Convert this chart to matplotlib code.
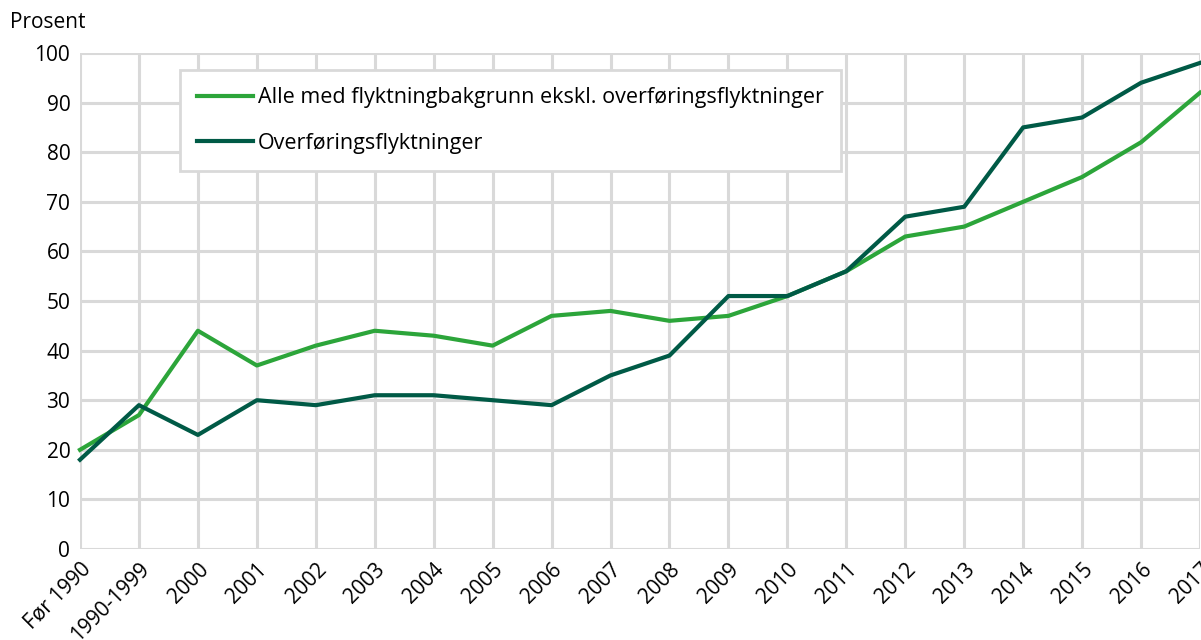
import matplotlib.pyplot as plt

plt.rcParams['font.family'] = ['Open Sans', 'DejaVu Sans']

categories = ['Før 1990', '1990-1999', '2000', '2001', '2002', '2003', '2004',
              '2005', '2006', '2007', '2008', '2009', '2010', '2011', '2012',
              '2013', '2014', '2015', '2016', '2017']
alle = [20, 27, 44, 37, 41, 44, 43, 41, 47, 48, 46, 47, 51, 56, 63, 65, 70, 75, 82, 92]
overforing = [18, 29, 23, 30, 29, 31, 31, 30, 29, 35, 39, 51, 51, 56, 67, 69, 85, 87, 94, 98]

label_alle = 'Alle med flyktningbakgrunn ekskl. overføringsflyktninger'
label_over = 'Overføringsflyktninger'

fig = plt.figure(figsize=(12.01, 6.4), dpi=100)
ax = fig.add_axes([80 / 1201, 1 - 549 / 640, 1120 / 1201, 496 / 640])

x = range(len(categories))
ax.plot(x, alle, color='#2ca53a', lw=3, label=label_alle, clip_on=False, zorder=3)
ax.plot(x, overforing, color='#005a46', lw=3, label=label_over, clip_on=False, zorder=4)

ax.set_xlim(0, len(categories) - 1)
ax.set_ylim(0, 100)
ax.set_yticks(range(0, 101, 10))
ax.set_xticks(list(x))
ax.set_xticklabels(categories, rotation=45, ha='right', rotation_mode='anchor')
ax.tick_params(length=0, labelsize=15, pad=7, colors='black')
ax.grid(True, color='#d9d9d9', lw=2.2, zorder=0)
ax.set_axisbelow(True)
for s in ax.spines.values():
    s.set_visible(False)

fig.text(10 / 1201, 1 - 22 / 640, 'Prosent', fontsize=15, va='center', ha='left')

leg = ax.legend(loc='upper left', bbox_to_anchor=((180 - 80) / 1120, (549 - 70) / 496),
                fontsize=15.5, frameon=True, fancybox=False, handlelength=2.6,
                handletextpad=0.2, labelspacing=1.15, borderpad=0.8,
                borderaxespad=0)
leg.get_frame().set_edgecolor('#d9d9d9')
leg.get_frame().set_linewidth(2)
leg.get_frame().set_facecolor('white')
leg.get_frame().set_alpha(1)

fig.savefig('out.png', dpi=100)
